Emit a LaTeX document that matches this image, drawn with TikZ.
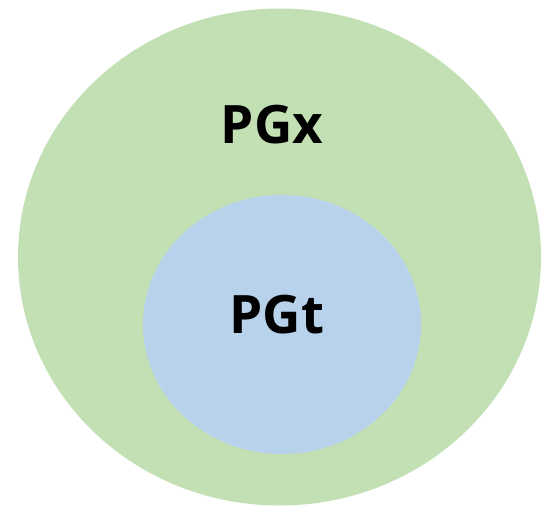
\documentclass[tikz,border=0pt]{standalone}
\usepackage{fontspec}
\setmainfont{Open Sans}
\definecolor{pgxgreen}{HTML}{C3E0B5}
\definecolor{pgtblue}{HTML}{B7D2EA}
\tikzset{
  setlabel/.style={font=\fontsize{53}{53}\selectfont\bfseries, inner sep=0pt}
}
\begin{document}
\begin{tikzpicture}[x=1pt, y=-1pt]
  % Marco
  \useasboundingbox (0,0) rectangle (545,505);

  % Conjunto exterior
  \fill[pgxgreen] (279.5,257) ellipse (261.5 and 248.5);
  \node[setlabel] (pgx) at (272,125) {PGx};

  % Conjunto interior
  \fill[pgtblue] (282,324.5) ellipse (139 and 129.5);
  \node[setlabel] (pgt) at (277,315) {PGt};
\end{tikzpicture}
\end{document}
